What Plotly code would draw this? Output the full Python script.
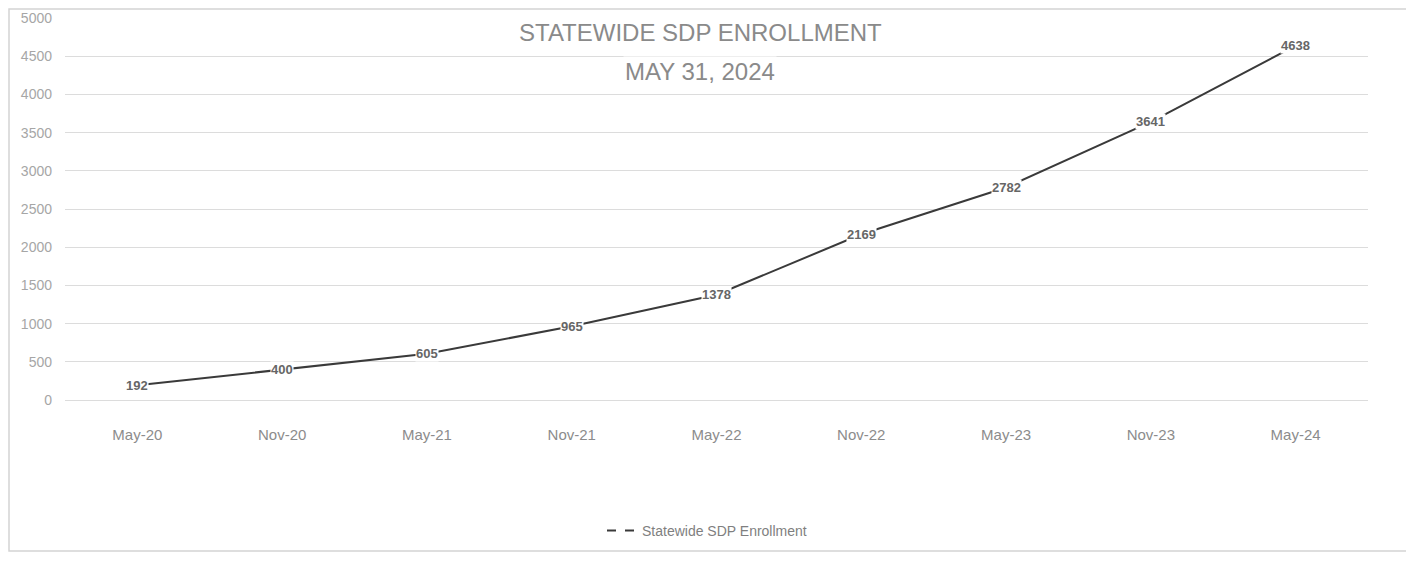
import plotly.graph_objects as go

# data
periods = ["May-20", "Nov-20", "May-21", "Nov-21", "May-22",
           "Nov-22", "May-23", "Nov-23", "May-24"]
enrollment = [192, 400, 605, 965, 1378, 2169, 2782, 3641, 4638]
series_name = "Statewide SDP Enrollment"

# the page body has an 8px margin, so the figure sits at (8, 8)
OFF = 8
W, H = 1414 - OFF, 561 - OFF
L, R, T = 65 - OFF, 46, 18 - OFF
B = H - (400 - OFF)
pw, ph = W - L - R, H - T - B

def px_x(p):
    # page pixel -> paper x
    return (p - OFF - L) / pw

def px_y(p):
    # page pixel -> paper y
    return (H - B - (p - OFF)) / ph

fig = go.Figure()

fig.add_trace(go.Scatter(
    x=periods, y=enrollment, mode="lines",
    line=dict(color="#3a3a3a", width=2),
    showlegend=False, hoverinfo="x+y",
))

# legend proxy (dashed symbol like the scanned legend)
fig.add_trace(go.Scatter(
    x=[None], y=[None], mode="lines", name=series_name,
    line=dict(color="#3a3a3a", width=2, dash="dash"),
))

# data labels sitting on the line
for p, v in zip(periods, enrollment):
    fig.add_annotation(
        x=p, y=v, text=str(v), showarrow=False,
        font=dict(family="Liberation Sans", size=13, color="#666666", weight="bold"),
        bgcolor="white", borderpad=0,
    )

# two-line title
for txt, yy in [("STATEWIDE SDP ENROLLMENT", 33), ("MAY 31, 2024", 72)]:
    fig.add_annotation(
        xref="paper", yref="paper", x=px_x(700), y=px_y(yy),
        xanchor="center", yanchor="middle",
        text=txt, showarrow=False,
        font=dict(family="Liberation Sans", size=24, color="#8a8a8a"),
        bgcolor="white",
    )

# chart border
fig.add_shape(
    type="rect", xref="paper", yref="paper",
    x0=px_x(9), x1=px_x(1409), y0=px_y(551), y1=px_y(9),
    line=dict(color="#d4d4d4", width=1.5), layer="below",
)

fig.update_layout(
    width=W, height=H,
    margin=dict(l=L, r=R, t=T, b=B),
    paper_bgcolor="white", plot_bgcolor="white",
    font=dict(family="Liberation Sans", color="#8c8c8c"),
    showlegend=True,
    legend=dict(
        orientation="h", x=px_x(707), xanchor="center",
        y=px_y(531), yanchor="middle",
        font=dict(size=14, color="#7f7f7f"),
        itemwidth=30,
    ),
    xaxis=dict(
        showgrid=False, showline=False, zeroline=False,
        range=[-0.5, len(periods) - 0.5],
        tickfont=dict(size=15, color="#8c8c8c"),
        ticklabelstandoff=24, automargin=False,
    ),
    yaxis=dict(
        range=[0, 5000], dtick=500,
        showgrid=True, gridcolor="#dcdcdc", gridwidth=1,
        zeroline=True, zerolinecolor="#dcdcdc", zerolinewidth=1,
        showline=False,
        tickfont=dict(size=14, color="#a6a6a6"),
        ticklabelstandoff=12, automargin=False,
    ),
)

fig.write_html("out.html")
